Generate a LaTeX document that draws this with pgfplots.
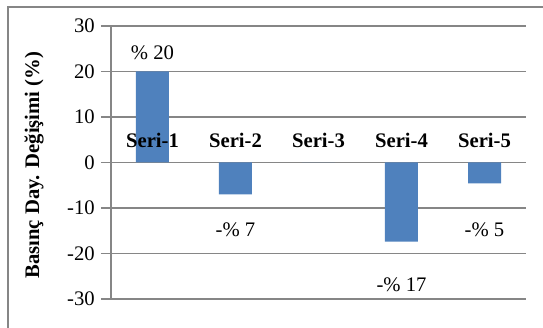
\documentclass[border=0pt]{standalone}
\usepackage{pgfplots}
\pgfplotsset{compat=1.18}
\usepackage{fontspec}
\setmainfont{Liberation Serif}
\definecolor{barblue}{HTML}{4F81BD}
\definecolor{gridgray}{HTML}{868686}
\newcommand{\chartfont}{\fontsize{15.5}{18}\selectfont}
\begin{document}
\chartfont
\begin{tikzpicture}
\useasboundingbox (-83.25pt,-21.75pt) rectangle (324pt,224.25pt);
\draw[gridgray, line width=1.1pt] (-77.25pt,-40pt) -- (-77.25pt,219pt) -- (340pt,219pt);
\begin{axis}[
  at={(0pt,0pt)}, anchor=south west,
  scale only axis, width=311.25pt, height=204.75pt,
  xmin=0.5, xmax=5.5, ymin=-30, ymax=30,
  ytick={-30,-20,-10,0,10,20,30},
  yticklabels={-30,-20,-10,0,10,20,30},
  axis x line=none,
  axis y line*=left,
  axis line style={gridgray, line width=0.9pt},
  ymajorgrids,
  grid style={gridgray, line width=0.9pt},
  tick align=outside,
  major tick length=7.5pt,
  ytick style={gridgray, line width=0.9pt},
  tick label style={font=\chartfont, text=black},
  yticklabel style={anchor=east, inner sep=0pt, xshift=-4.5pt},
  ylabel={\textbf{Basınç Day. Değişimi (\%)}},
  ylabel style={at={(axis description cs:-0.185,0.49)}, anchor=center, font=\chartfont},
  clip=false,
]
\addplot[ybar, fill=barblue, draw=none, bar width=24.75pt] coordinates {(1,20) (2,-7) (3,0) (4,-17.4) (5,-4.6)};
\node[font=\chartfont\bfseries] at (axis cs:1,4.8) {Seri-1};
\node[font=\chartfont\bfseries] at (axis cs:2,4.8) {Seri-2};
\node[font=\chartfont\bfseries] at (axis cs:3,4.8) {Seri-3};
\node[font=\chartfont\bfseries] at (axis cs:4,4.8) {Seri-4};
\node[font=\chartfont\bfseries] at (axis cs:5,4.8) {Seri-5};
\node[font=\chartfont] at (axis cs:1,24.2) {\% 20};
\node[font=\chartfont] at (axis cs:2,-14.8) {-\% 7};
\node[font=\chartfont] at (axis cs:4,-26.9) {-\% 17};
\node[font=\chartfont] at (axis cs:5,-14.8) {-\% 5};
\end{axis}
\end{tikzpicture}
\end{document}
